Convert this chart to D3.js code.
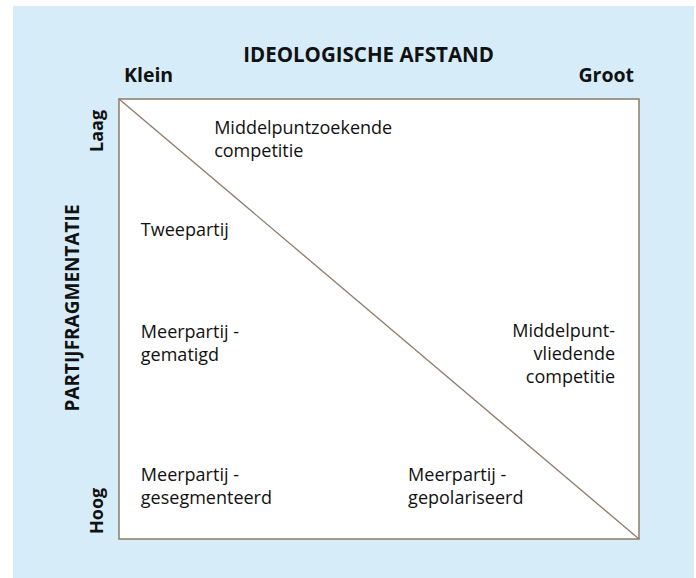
<!DOCTYPE html>
<html>
<head>
<meta charset="utf-8">
<script src="https://cdn.jsdelivr.net/npm/d3@7"></script>
<style>
  body { margin: 0; background: #fff; }
</style>
</head>
<body>
<svg id="chart"></svg>
<script>
// axis labels
const xTitle = 'IDEOLOGISCHE AFSTAND'
const yTitle = 'PARTIJFRAGMENTATIE'
const xEnds = ['Klein', 'Groot']
const yEnds = ['Laag', 'Hoog']

// quadrant labels, placed in (ideological distance, fragmentation) units 0..1
const labelLines = [
  ['Middelpuntzoekende', 'competitie'],
  ['Tweepartij'],
  ['Meerpartij -', 'gematigd'],
  ['Middelpunt-', 'vliedende', 'competitie'],
  ['Meerpartij -', 'gesegmenteerd'],
  ['Meerpartij -', 'gepolariseerd']
]
const labelDistance = [0.183, 0.042, 0.042, 0.954, 0.042, 0.556]
const labelFragmentation = [0.08, 0.311, 0.543, 0.541, 0.868, 0.868]
const labelAlign = ['start', 'start', 'start', 'end', 'start', 'start']

const W = 696
const H = 578
const margin = { top: 99, right: 57, bottom: 39, left: 119 }
const width = W - margin.left - margin.right
const height = H - margin.top - margin.bottom

const font = "'Open Sans', sans-serif"

const x = d3.scaleLinear().domain([0, 1]).range([0, width])
const y = d3.scaleLinear().domain([0, 1]).range([0, height])

const root = d3.select('#chart').attr('width', W).attr('height', H)

// blue panel
root.append('rect')
  .attr('x', 13).attr('y', 6)
  .attr('width', W - 15).attr('height', H - 6)
  .attr('fill', '#d6edf9')

const svg = root.append('g').attr('transform', `translate(${margin.left},${margin.top})`)

// white box
svg.append('rect')
  .attr('x', x(0)).attr('y', y(0))
  .attr('width', x(1) - x(0)).attr('height', y(1) - y(0))
  .attr('fill', '#fff')
  .attr('stroke', '#8c7b66')
  .attr('stroke-width', 1.5)

// diagonal
svg.append('line')
  .attr('x1', x(0)).attr('y1', y(0))
  .attr('x2', x(1)).attr('y2', y(1))
  .attr('stroke', '#8c7b66')
  .attr('stroke-width', 1.3)

// x title and ends
svg.append('text')
  .attr('x', x(0.48)).attr('y', -37)
  .attr('text-anchor', 'middle')
  .style('font-family', font).style('font-weight', 'bold').style('font-size', '20.5px')
  .attr('fill', '#111')
  .text(xTitle)

svg.selectAll('.xend')
  .data(xEnds)
  .join('text')
  .attr('x', (d, i) => x(i) + (i ? -5 : 5))
  .attr('y', -17)
  .attr('text-anchor', (d, i) => i ? 'end' : 'start')
  .style('font-family', font).style('font-weight', 'bold').style('font-size', '19.5px')
  .attr('fill', '#111')
  .text(d => d)

// y title and ends
svg.append('text')
  .attr('transform', `translate(-40,${y(0.475)}) rotate(-90)`)
  .attr('text-anchor', 'middle')
  .style('font-family', font).style('font-weight', 'bold').style('font-size', '19px')
  .attr('fill', '#111')
  .text(yTitle)

svg.selectAll('.yend')
  .data(yEnds)
  .join('text')
  .attr('transform', (d, i) => `translate(-16,${i ? y(1) - 5 : y(0) + 53}) rotate(-90)`)
  .attr('text-anchor', 'start')
  .style('font-family', font).style('font-weight', 'bold').style('font-size', '18px')
  .attr('fill', '#111')
  .text(d => d)

// quadrant labels
const labels = svg.selectAll('.qlabel')
  .data(labelLines)
  .join('text')
  .attr('class', 'qlabel')
  .attr('text-anchor', (d, i) => labelAlign[i])
  .style('font-family', font).style('font-size', '18px')
  .attr('fill', '#111')

labels.selectAll('tspan')
  .data((d, i) => d.map(t => ({ t, i })))
  .join('tspan')
  .attr('x', d => x(labelDistance[d.i]))
  .attr('y', (d, j) => y(labelFragmentation[d.i]) + j * 23)
  .text(d => d.t)
</script>
</body>
</html>
